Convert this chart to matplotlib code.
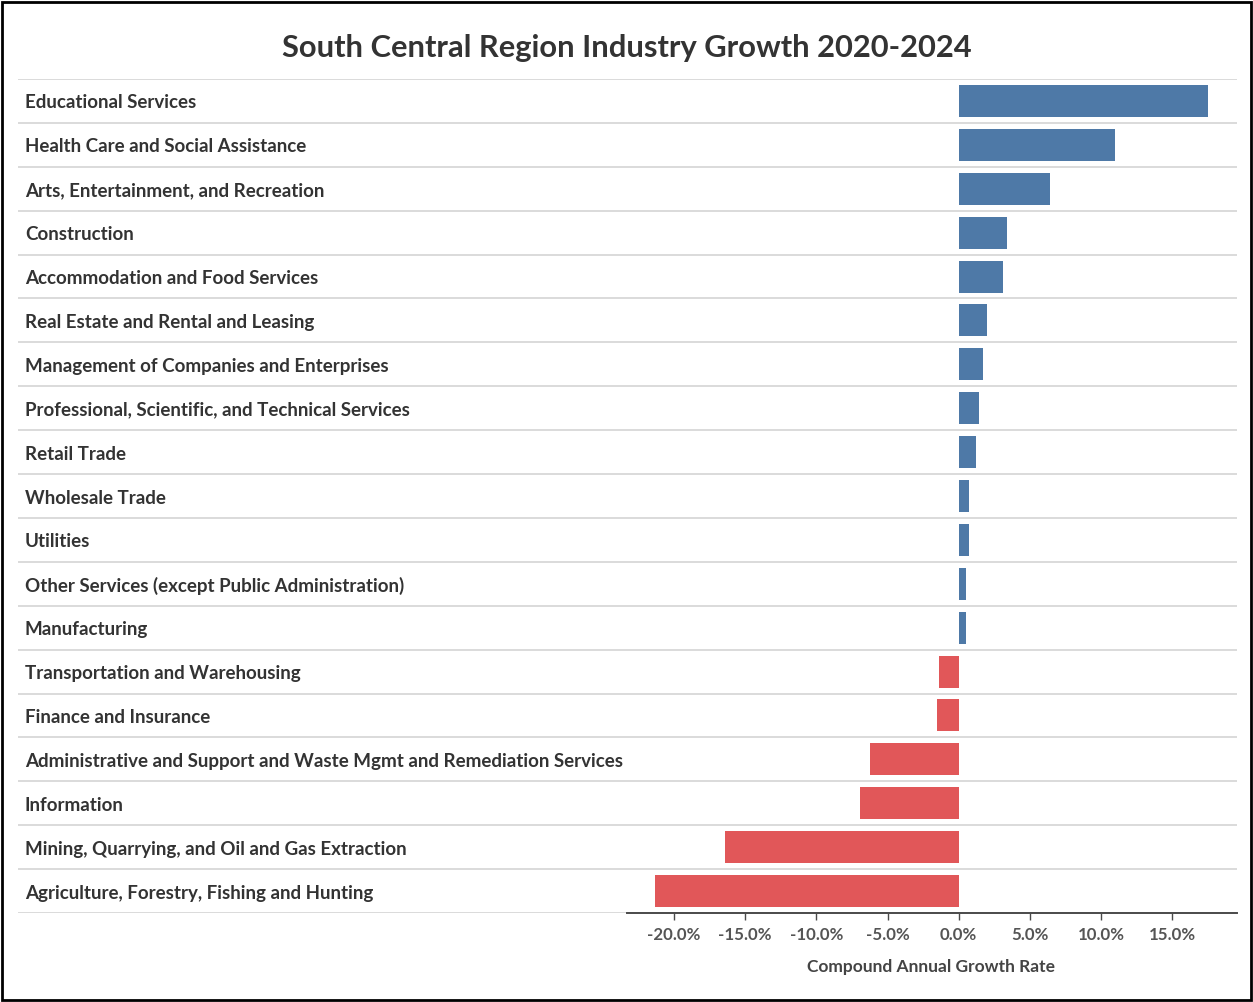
import matplotlib
matplotlib.use("Agg")
import matplotlib.pyplot as plt
import matplotlib.transforms as mtransforms
from matplotlib.patches import Rectangle

plt.rcParams['font.family'] = ['Lato', 'DejaVu Sans']

industries = [
    "Educational Services",
    "Health Care and Social Assistance",
    "Arts, Entertainment, and Recreation",
    "Construction",
    "Accommodation and Food Services",
    "Real Estate and Rental and Leasing",
    "Management of Companies and Enterprises",
    "Professional, Scientific, and Technical Services",
    "Retail Trade",
    "Wholesale Trade",
    "Utilities",
    "Other Services (except Public Administration)",
    "Manufacturing",
    "Transportation and Warehousing",
    "Finance and Insurance",
    "Administrative and Support and Waste Mgmt and Remediation Services",
    "Information",
    "Mining, Quarrying, and Oil and Gas Extraction",
    "Agriculture, Forestry, Fishing and Hunting",
]
cagr = [17.5, 11.0, 6.4, 3.4, 3.1, 2.0, 1.7, 1.4, 1.2, 0.7, 0.7, 0.5, 0.5,
        -1.4, -1.5, -6.2, -6.9, -16.4, -21.3]
tick_values = [-20, -15, -10, -5, 0, 5, 10, 15]
tick_labels = ["-20.0%", "-15.0%", "-10.0%", "-5.0%", "0.0%", "5.0%", "10.0%", "15.0%"]

POS_COLOR = "#4e79a7"
NEG_COLOR = "#e15759"

W, H = 1253, 1002
fig = plt.figure(figsize=(W / 100, H / 100), dpi=100)
fig.patch.set_facecolor("white")

left_px, right_px, top_px, bottom_px = 18, 1237, 79, 913
ax = fig.add_axes([left_px / W, 1 - bottom_px / H, (right_px - left_px) / W, (bottom_px - top_px) / H])

n = len(industries)
ypos = list(range(n))
colors = [POS_COLOR if v >= 0 else NEG_COLOR for v in cagr]
ax.barh(ypos, cagr, height=0.73, color=colors, zorder=3)

zero_px = 958.7
px_per_unit = 14.24
ax.set_xlim((left_px - zero_px) / px_per_unit, (right_px - zero_px) / px_per_unit)
ax.set_ylim(n - 0.5, -0.5)

for i in range(n + 1):
    ax.axhline(i - 0.5, color="#d4d4d4", lw=1.2, zorder=1)

for s in ["left", "top", "right"]:
    ax.spines[s].set_visible(False)
ax.spines["bottom"].set_color("#4a4a4a")
ax.spines["bottom"].set_linewidth(1.4)
ax.spines["bottom"].set_bounds((627 - zero_px) / px_per_unit, (right_px - zero_px) / px_per_unit)
ax.spines["bottom"].set_zorder(4)

ax.set_yticks([])
ax.set_xticks(tick_values)
ax.set_xticklabels(tick_labels, fontsize=12.2, fontweight="bold", color="#555555")
ax.tick_params(axis="x", length=5, width=1, color="#4a4a4a", pad=5)

trans = mtransforms.blended_transform_factory(ax.transAxes, ax.transData)
label_offset = mtransforms.ScaledTranslation(0, -2 / 100, fig.dpi_scale_trans)
for i, name in enumerate(industries):
    ax.text((25 - left_px) / (right_px - left_px), i, name, transform=trans + label_offset,
            ha="left", va="center", fontsize=13.5, fontweight="bold", color="#333333")

fig.text(627 / W, 1 - 48 / H, "South Central Region Industry Growth 2020-2024",
         ha="center", va="center", fontsize=22.2, fontweight="bold", color="#333333")
fig.text(931 / W, 1 - 967 / H, "Compound Annual Growth Rate",
         ha="center", va="center", fontsize=12.5, fontweight="bold", color="#444444")

fig.patches.append(Rectangle((2 / W, 2 / H), (W - 4) / W, (H - 4) / H,
                             transform=fig.transFigure, fill=False,
                             edgecolor="black", linewidth=2))

fig.savefig("out.png", dpi=100, facecolor="white")
